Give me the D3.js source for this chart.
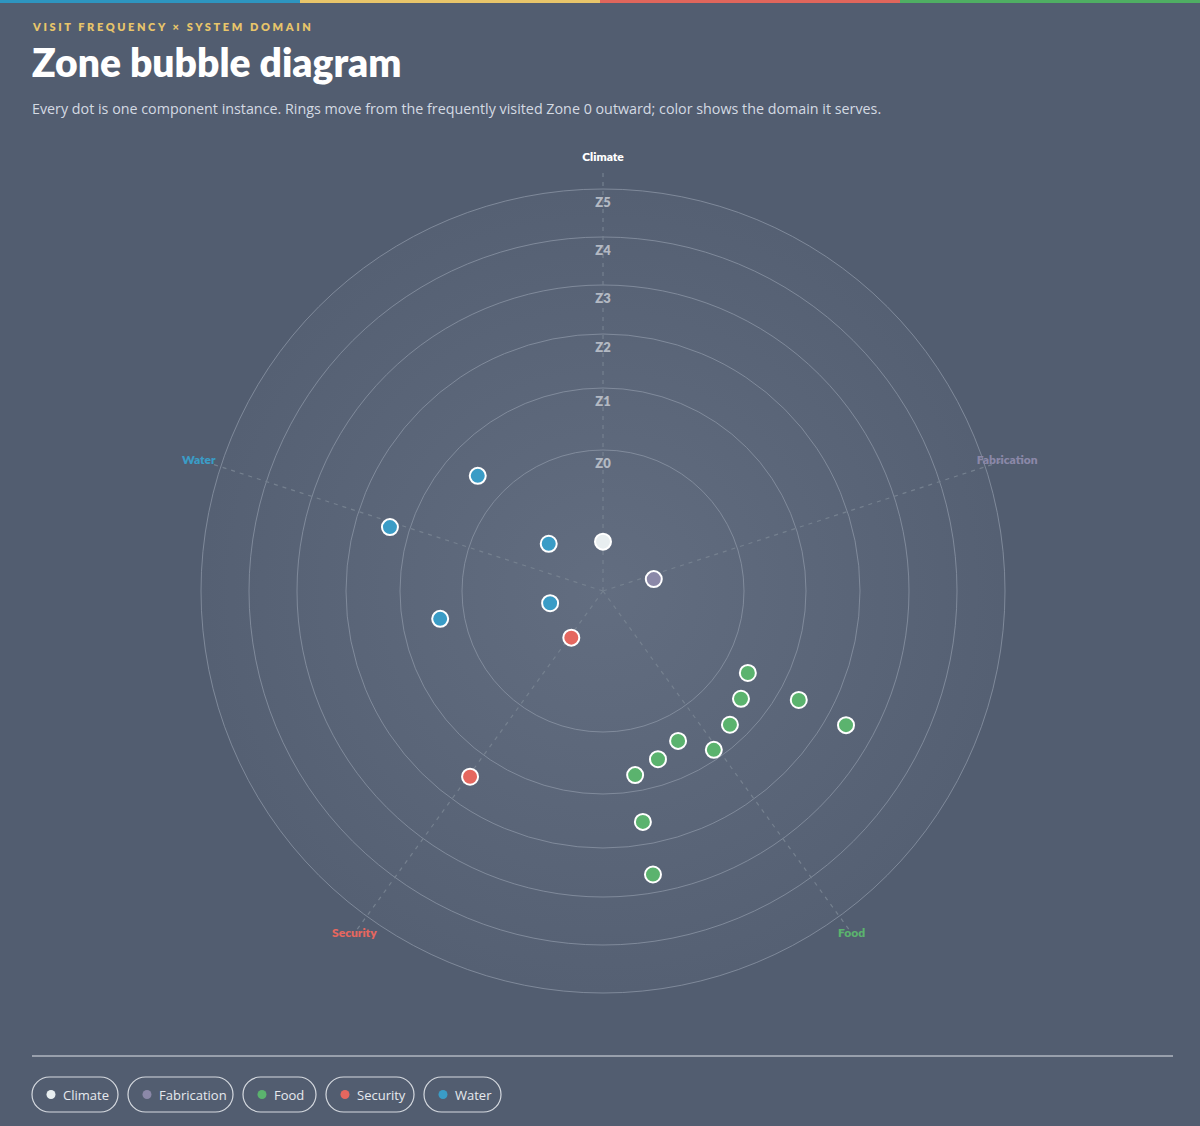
<!DOCTYPE html><html><head><meta charset="utf-8">
<script src="https://cdn.jsdelivr.net/npm/d3@7"></script>
<style>
body{margin:0;background:#525d70;width:1200px;height:1126px;overflow:hidden;font-family:"Open Sans",sans-serif}
</style></head><body><svg id="c" width="1200" height="1126"></svg>
<script>
const domains=["Climate","Fabrication","Food","Security","Water"];
const domainColors=["#e8eef0","#8b88a8","#5bb36e","#e5675f","#3a9cc6"];
const zoneLabels=["Z0","Z1","Z2","Z3","Z4","Z5"];
const pointDomain=["Climate","Fabrication","Water","Water","Water","Water","Water","Security","Security","Food","Food","Food","Food","Food","Food","Food","Food","Food","Food","Food"];
const pointAngle=[0,76.8,311,257,312.6,286.7,260.3,214.2,215.6,119.5,128,119.1,118.9,136.5,145.1,153.4,161.9,170.1,170.2,170];
const pointZone=[0.35,0.37,0.51,0.385,1.47,2.36,1.39,0.40,2.47,1.41,1.55,2.39,3.42,1.70,1.85,1.43,1.58,1.74,2.58,3.63];

const svg=d3.select("#c");
const W=1200,cx=603,cy=591;
const color=d3.scaleOrdinal(domains,domainColors);
const r=d3.scaleLinear([0,1,2,3,4,5,6],[0,141,203,257,306,354,402]);
const ang=d3.scaleLinear([0,360],[0,2*Math.PI]);
const topCols=["#2e95c0","#e8c56a","#e0665c","#4fae63"];
svg.selectAll("rect.top").data(topCols).join("rect").attr("x",(d,i)=>i*300).attr("y",0).attr("width",300).attr("height",3).attr("fill",d=>d);
svg.append("text").attr("x",33).attr("y",31).text("VISIT FREQUENCY × SYSTEM DOMAIN").attr("fill","#e8c56a").attr("font-family","Lato").attr("font-weight",800).attr("font-size",11).attr("letter-spacing",2.6);
svg.append("text").attr("x",32).attr("y",77).text("Zone bubble diagram").attr("fill","#fff").attr("font-family","Lato").attr("font-weight",800).attr("font-size",39);
svg.append("text").attr("x",32).attr("y",114).text("Every dot is one component instance. Rings move from the frequently visited Zone 0 outward; color shows the domain it serves.").attr("fill","#d4dae3").attr("font-size",14.3);

const defs=svg.append("defs");
const g0=defs.append("radialGradient").attr("id","rg");
g0.append("stop").attr("offset","0%").attr("stop-color","#626d80");
g0.append("stop").attr("offset","100%").attr("stop-color","#556073");
const g=svg.append("g").attr("transform",`translate(${cx},${cy})`);
g.append("circle").attr("r",402).attr("fill","url(#rg)");
g.selectAll("circle.ring").data(d3.range(1,7)).join("circle").attr("class","ring").attr("r",d=>r(d)).attr("fill","none").attr("stroke","#8a93a4").attr("stroke-width",1).attr("opacity",.8);
const pt=(a,rad)=>[Math.sin(ang(a))*rad,-Math.cos(ang(a))*rad];
g.selectAll("line.spoke").data(domains).join("line").attr("x1",0).attr("y1",0)
 .attr("x2",(d,i)=>pt(i*72,420)[0]).attr("y2",(d,i)=>pt(i*72,420)[1])
 .attr("stroke","#75808f").attr("stroke-dasharray","4 5").attr("stroke-width",1.2);
g.selectAll("text.zl").data(zoneLabels).join("text").attr("x",0).attr("y",(d,i)=>-r(i+1)+18).attr("text-anchor","middle").text(d=>d).attr("fill","#b3b9c3").attr("font-family","Lato").attr("font-weight",800).attr("font-size",13);
g.selectAll("text.dl").data(domains).join("text").attr("text-anchor","middle")
 .attr("x",(d,i)=>pt(i*72,i==0?434:i==1||i==4?425:423)[0]).attr("y",(d,i)=>pt(i*72,i==0?434:i==1||i==4?425:423)[1]+4)
 .text(d=>d).attr("fill",(d,i)=>i==0?"#fff":color(d)).attr("font-family","Lato").attr("font-weight",800).attr("font-size",12);
g.selectAll("circle.pt").data(pointAngle).join("circle")
 .attr("cx",(d,i)=>pt(d,r(pointZone[i]))[0]).attr("cy",(d,i)=>pt(d,r(pointZone[i]))[1])
 .attr("r",8).attr("fill",(d,i)=>color(pointDomain[i])).attr("stroke","#fff").attr("stroke-width",2);

svg.append("line").attr("x1",32).attr("x2",1173).attr("y1",1056).attr("y2",1056).attr("stroke","#dfe3e8");
let x=32;
const pw=[86,105,73,88,77];
domains.forEach((d,i)=>{
 const lg=svg.append("g").attr("transform",`translate(${x},1077)`);
 lg.append("rect").attr("width",pw[i]).attr("height",35).attr("rx",17.5).attr("fill","none").attr("stroke","#d5d9df").attr("stroke-width",1.2);
 lg.append("circle").attr("cx",19).attr("cy",17.5).attr("r",4.5).attr("fill",color(d));
 lg.append("text").attr("x",31).attr("y",22.5).text(d).attr("fill","#e6e9ee").attr("font-size",13);
 x+=pw[i]+10;
});
</script></body></html>
